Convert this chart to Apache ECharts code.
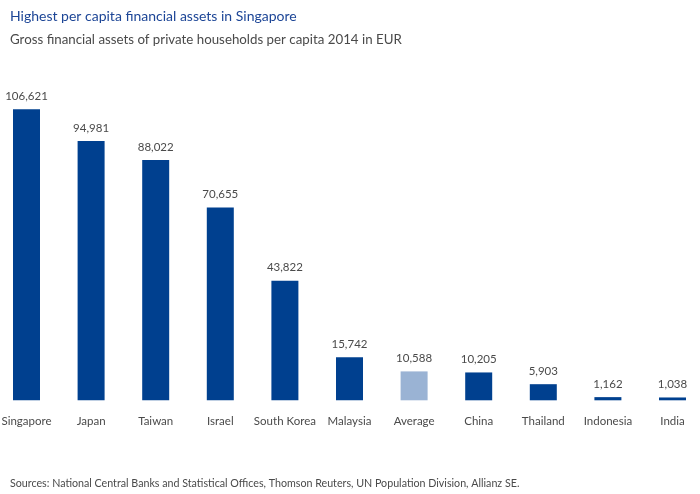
<!DOCTYPE html>
<html>
<head>
<meta charset="utf-8">
<script src="https://cdn.jsdelivr.net/npm/echarts@6/dist/echarts.min.js"></script>
<style>
html,body{margin:0;padding:0;background:#fff;}
#c{width:700px;height:494px;}
</style>
</head>
<body>
<div id="c"></div>
<script>
const categories = ["Singapore","Japan","Taiwan","Israel","South Korea","Malaysia","Average","China","Thailand","Indonesia","India"];
const values = [106621,94981,88022,70655,43822,15742,10588,10205,5903,1162,1038];
const highlight = "Average";

const DARK = "#00408f";
const LIGHT = "#9ab3d4";
const FONT = "Lato";

const chart = echarts.init(document.getElementById('c'), null, {renderer:'canvas'});
chart.setOption({
  backgroundColor:'#fff',
  animation:false,
  title:[
    {text:'Highest per capita financial assets in Singapore', left:5, top:4,
     textStyle:{fontFamily:FONT,fontSize:14,fontWeight:'normal',color:'#1c4596'}},
    {text:'Gross financial assets of private households per capita 2014 in EUR', left:5, top:28,
     textStyle:{fontFamily:FONT,fontSize:13.3,fontWeight:'normal',color:'#4a4a4a'}},
    {text:'Sources: National Central Banks and Statistical Offices, Thomson Reuters, UN Population Division, Allianz SE.', left:5, top:473,
     textStyle:{fontFamily:FONT,fontSize:10.7,fontWeight:'normal',color:'#4a4a4a'}}
  ],
  grid:{left:-5.8, right:-4.8, top:72.8, bottom:93.7, outerBoundsMode:'none', containLabel:false},
  xAxis:{type:'category', data:categories,
    axisLine:{show:false}, axisTick:{show:false},
    axisLabel:{interval:0, margin:15, fontFamily:FONT, fontSize:11.5, color:'#4a4a4a'}},
  yAxis:{type:'value', min:0, max:120000, show:false, splitLine:{show:false}},
  series:[{type:'bar', barWidth:27,
    data: values.map((v,i)=>({value:v, itemStyle:{color: categories[i]===highlight?LIGHT:DARK}})),
    label:{show:true, position:'top', distance:7, fontFamily:FONT, fontSize:11.5, color:'#4a4a4a',
      formatter:p=>p.value.toLocaleString('en-US')}
  }]
});
</script>
</body>
</html>
